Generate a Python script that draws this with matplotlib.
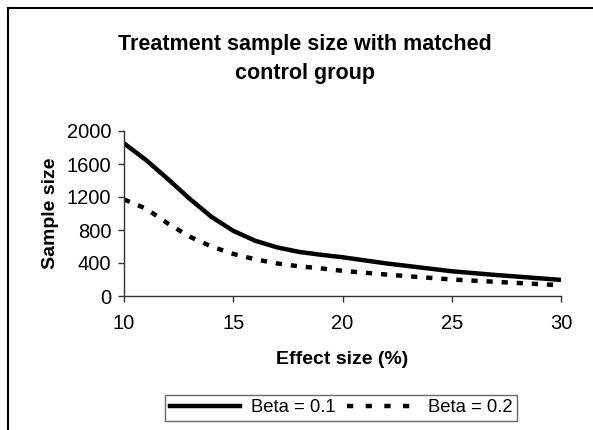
import matplotlib
matplotlib.use("Agg")
import matplotlib.pyplot as plt
from matplotlib.lines import Line2D

plt.rcParams['font.family'] = ['Liberation Sans', 'DejaVu Sans']

# effect size (%) and sample sizes
effect = [10, 11, 12, 13, 14, 15, 16, 17, 18, 19, 20, 22, 25, 27, 30]
beta_01 = [1850, 1650, 1420, 1180, 960, 790, 670, 590, 535, 500, 470, 395, 300, 255, 195]
beta_02 = [1170, 1060, 880, 720, 600, 510, 445, 395, 360, 335, 305, 260, 200, 172, 130]

fig = plt.figure(figsize=(5.93, 4.30), dpi=100)
ax = fig.add_axes([124/593, 1-296/430, (561-124)/593, (296-131)/430])

ax.plot(effect, beta_01, color='black', lw=3.2, solid_joinstyle='round', label='Beta = 0.1')
ax.plot(effect, beta_02, color='black', lw=3.2, dashes=(1.4, 2.0), label='Beta = 0.2')

ax.set_xlim(10, 30)
ax.set_ylim(0, 2000)
ax.set_xticks([10, 15, 20, 25, 30])
ax.set_yticks([0, 400, 800, 1200, 1600, 2000])
for s in ['top', 'right']:
    ax.spines[s].set_visible(False)
for s in ['left', 'bottom']:
    ax.spines[s].set_color('#333333')
    ax.spines[s].set_linewidth(1)
ax.tick_params(direction='out', length=4, width=1, color='#333333', labelsize=14.5, pad=5)
ax.tick_params(axis='x', pad=9)

ax.set_xlabel('Effect size (%)', fontsize=14, fontweight='bold', labelpad=13)
ax.set_ylabel('Sample size', fontsize=14, fontweight='bold', labelpad=6)

fig.text(305/593, 1-59/430, 'Treatment sample size with matched\ncontrol group',
         ha='center', va='center', fontsize=15.5, fontweight='bold', linespacing=1.45)

leg = fig.legend(handles=[Line2D([], [], color='black', lw=3.2, label='Beta = 0.1'),
                          Line2D([], [], color='black', lw=3.2, dashes=(1.4, 2.8), label='Beta = 0.2')],
                 loc='center', bbox_to_anchor=(341/593, 1-408/430), ncol=2, frameon=True,
                 fancybox=False, edgecolor='#444444', fontsize=13.3, handlelength=3.8,
                 columnspacing=0.6, handletextpad=0.6, borderpad=0.25)
leg.get_frame().set_linewidth(1)

# outer chart border (left and top only visible)
fig.add_artist(Line2D([8/593, 8/593], [0, 1-8/430], transform=fig.transFigure, color='black', lw=1.5))
fig.add_artist(Line2D([8/593, 1], [1-8/430, 1-8/430], transform=fig.transFigure, color='black', lw=1.5))

fig.savefig('out.png', dpi=100)
